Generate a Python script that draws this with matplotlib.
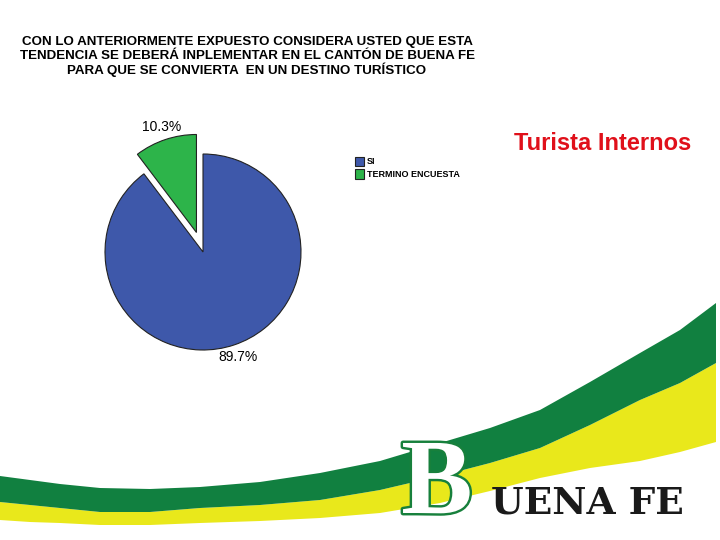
import matplotlib
matplotlib.use("Agg")
import matplotlib.pyplot as plt
import matplotlib.patheffects as pe
from matplotlib.patches import Polygon

# data
categories = ["SI", "TERMINO ENCUESTA"]
shares = [89.7, 10.3]
pct_labels = ["89.7%", "10.3%"]
slice_colors = ["#3e58aa", "#2db44a"]

title_lines = [
    "CON LO ANTERIORMENTE EXPUESTO CONSIDERA USTED QUE ESTA",
    "TENDENCIA SE DEBERÁ INPLEMENTAR EN EL CANTÓN DE BUENA FE",
    "PARA QUE SE CONVIERTA  EN UN DESTINO TURÍSTICO",
]

# decorative swoosh outlines (pixel coords, y down)
band_x = [0, 30, 60, 100, 150, 200, 260, 320, 380, 440, 490, 540, 590, 640, 680, 716]
green_top = [476, 480, 484, 488, 489, 487, 482, 473, 461, 443, 428, 410, 382, 353, 330, 303]
green_bot = [502, 505, 508, 512, 512, 508, 505, 500, 490, 476, 463, 448, 425, 400, 383, 363]
yellow_bot = [520, 522, 523, 525, 525, 523, 521, 518, 513, 503, 491, 478, 468, 461, 452, 442]

plt.rcParams["font.family"] = ["Liberation Sans", "DejaVu Sans"]

fig = plt.figure(figsize=(7.2, 5.4), dpi=100)
bg = fig.add_axes([0, 0, 1, 1])
bg.set_xlim(0, 720)
bg.set_ylim(540, 0)
bg.axis("off")

# bands
green_poly = list(zip(band_x, green_top)) + list(zip(band_x[::-1], green_bot[::-1]))
yellow_poly = list(zip(band_x, green_bot)) + list(zip(band_x[::-1], yellow_bot[::-1]))
bg.add_patch(Polygon(yellow_poly, closed=True, color="#e9e81b", lw=0))
bg.add_patch(Polygon(green_poly, closed=True, color="#118040", lw=0))

# title
for i, line in enumerate(title_lines):
    bg.text(247, 42 + i * 13.7, line, ha="center", va="center",
            fontsize=9.6, fontweight="bold", color="black")

bg.text(603, 143, "Turista Internos", ha="center", va="center",
        fontsize=17, fontweight="bold", color="#e0101a")

# logo
bg.text(437, 487, "B", ha="center", va="center", fontsize=77,
        family="Liberation Serif", fontweight="bold", color="white",
        path_effects=[pe.withStroke(linewidth=3.5, foreground="#17803c")])
bg.text(587, 503, "UENA FE", ha="center", va="center", fontsize=27,
        family="DejaVu Serif", fontweight="bold", color="#1a1a1a")

# pie
R = 98
cx, cy = 203, 252
half = 130
ax = fig.add_axes([(cx - half) / 720, 1 - (cy + half) / 540, 2 * half / 720, 2 * half / 540])
wedges, texts = ax.pie(shares, colors=slice_colors, startangle=90, counterclock=False,
                       explode=[0, 0.21], labels=pct_labels, labeldistance=1.13,
                       wedgeprops={"edgecolor": "#222222", "linewidth": 0.8},
                       textprops={"fontsize": 10})
for t in texts:
    t.set_ha("center")
    t.set_va("center")
ax.set_xlim(-half / R, half / R)
ax.set_ylim(-half / R, half / R)
ax.set_aspect("equal")
ax.axis("off")

fig.legend(wedges, categories, loc="upper left", bbox_to_anchor=(350 / 720, 1 - 152 / 540),
           frameon=False, prop={"weight": "bold", "size": 6.5},
           handlelength=1.1, handleheight=1.2, handletextpad=0.3, labelspacing=0.35,
           borderpad=0)

fig.savefig("out.png", dpi=100)
